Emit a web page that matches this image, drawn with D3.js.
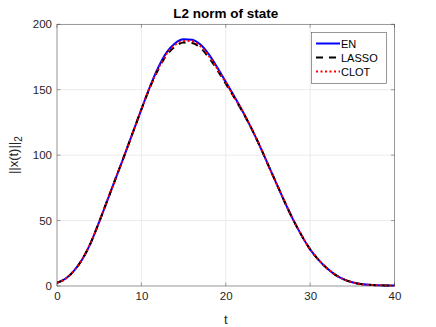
<!DOCTYPE html>
<html><head><meta charset="utf-8">
<script src="https://cdn.jsdelivr.net/npm/d3@7"></script>
<style>body{margin:0;background:#fff;}svg{display:block;font-family:Helvetica,"Liberation Sans",Arial,sans-serif;}</style>
</head><body><svg id="c" width="436" height="327"></svg>
<script>
const tValues = [0,1,2,3,4,5,6,7,8,9,10,11,12,13,14,15,16,17,18,19,20,21,22,23,24,25,26,27,28,29,30,31,32,33,34,35,36,37,38,39,40];
const enValues = [2.5,5.5,11.5,20.5,33,49,66,83,100,117.5,135,152,167,178.5,185.5,188.5,188.2,184.5,177,167,156,145,133.5,121,107.5,93,78.5,64,50.5,38.5,28,20,13.5,8.5,5,2.8,1.5,0.9,0.6,0.4,0.3];
const lassoValues = [2.5,5.5,11.5,20.5,33,49,66,83,100,117.5,135,151.5,165.5,176.5,183,186,185.7,182,174.5,165,154.5,144,133,121,107.5,93,78.5,64,50.5,38.5,28,20,13.5,8.5,5,2.8,1.5,0.9,0.6,0.4,0.3];
const clotValues = [2.5,5.5,11.5,20.5,33,49,66,83,100,117.5,135,151.8,166.3,177.5,184.3,187.3,187,183.3,175.8,166,155.3,144.5,133.3,121,107.5,93,78.5,64,50.5,38.5,28,20,13.5,8.5,5,2.8,1.5,0.9,0.6,0.4,0.3];
const seriesNames = ["EN","LASSO","CLOT"];
const xTicks = [0,10,20,30,40];
const yTicks = [0,50,100,150,200];

const svg = d3.select("#c");
const L=57, R=394.5, T=24.3, B=286;
const x = d3.scaleLinear().domain([0,40]).range([L,R]);
const y = d3.scaleLinear().domain([0,200]).range([B,T]);
const axisCol = "#262626";

// grid
const g = svg.append("g");
g.selectAll("line.gx").data(xTicks).enter().append("line")
  .attr("x1",d=>x(d)).attr("x2",d=>x(d)).attr("y1",T).attr("y2",B)
  .attr("stroke","#ebebeb").attr("stroke-width",1);
g.selectAll("line.gy").data(yTicks).enter().append("line")
  .attr("y1",d=>y(d)).attr("y2",d=>y(d)).attr("x1",L).attr("x2",R)
  .attr("stroke","#ebebeb").attr("stroke-width",1);

// lines
const line = vals => d3.line().x((d,i)=>x(tValues[i])).y(d=>y(d)).curve(d3.curveMonotoneX)(vals);
const styles = [
  {vals:enValues,color:"#0000ff",dash:null},
  {vals:lassoValues,color:"#000000",dash:"7,6"},
  {vals:clotValues,color:"#ff0000",dash:"2,2.5"}
];
svg.append("clipPath").attr("id","cp").append("rect").attr("x",L).attr("y",T-2).attr("width",R-L+2).attr("height",B-T+4);
styles.forEach(s=>{
  svg.append("path").attr("d",line(s.vals)).attr("fill","none")
    .attr("stroke",s.color).attr("stroke-width",2)
    .attr("stroke-dasharray",s.dash).attr("clip-path","url(#cp)");
});

// axes
const xAxis = d3.axisBottom(x).tickValues(xTicks).tickSize(0).tickPadding(6);
const xa = svg.append("g").attr("transform",`translate(0,${B})`).call(xAxis);
xa.select(".domain").remove();
xa.selectAll("text").attr("font-size",11.5).attr("fill",axisCol).attr("font-family","Helvetica,'Liberation Sans',Arial,sans-serif");
const yAxis = d3.axisLeft(y).tickValues(yTicks).tickSize(0).tickPadding(5);
const ya = svg.append("g").attr("transform",`translate(${L},0)`).call(yAxis);
ya.select(".domain").remove();
ya.selectAll("text").attr("font-size",11.5).attr("fill",axisCol).attr("font-family","Helvetica,'Liberation Sans',Arial,sans-serif");

// box and ticks inside
svg.append("rect").attr("x",L).attr("y",T).attr("width",R-L).attr("height",B-T)
  .attr("fill","none").attr("stroke",axisCol).attr("stroke-width",0.6).attr("stroke-opacity",0.7);
const tk = svg.append("g").attr("stroke",axisCol).attr("stroke-width",0.6).attr("stroke-opacity",0.7);
xTicks.forEach(t=>{
  tk.append("line").attr("x1",x(t)).attr("x2",x(t)).attr("y1",B).attr("y2",B-3.5);
  tk.append("line").attr("x1",x(t)).attr("x2",x(t)).attr("y1",T).attr("y2",T+3.5);
});
yTicks.forEach(t=>{
  tk.append("line").attr("y1",y(t)).attr("y2",y(t)).attr("x1",L).attr("x2",L+3.5);
  tk.append("line").attr("y1",y(t)).attr("y2",y(t)).attr("x1",R).attr("x2",R-3.5);
});

// title & labels
svg.append("text").attr("x",(L+R)/2).attr("y",18).attr("text-anchor","middle")
  .attr("font-size",13.5).attr("font-weight","bold").attr("fill","#000").text("L2 norm of state");
svg.append("text").attr("x",(L+R)/2).attr("y",324).attr("text-anchor","middle")
  .attr("font-size",13).attr("fill",axisCol).text("t");
const yl = svg.append("text").attr("transform",`translate(18,${(T+B)/2}) rotate(-90)`)
  .attr("text-anchor","middle").attr("font-size",13).attr("fill",axisCol);
yl.append("tspan").text("||x(t)||");
yl.append("tspan").attr("dy",4).attr("font-size",10).text("2");

// legend
const lg = svg.append("g");
lg.append("rect").attr("x",311.5).attr("y",32.5).attr("width",75).attr("height",51)
  .attr("fill","#fff").attr("stroke","#262626").attr("stroke-width",0.6).attr("stroke-opacity",0.8);
seriesNames.forEach((n,i)=>{
  const yy = 43.5 + i*14;
  lg.append("line").attr("x1",316).attr("x2",340).attr("y1",yy).attr("y2",yy)
    .attr("stroke",styles[i].color).attr("stroke-width",2).attr("stroke-dasharray",styles[i].dash);
  lg.append("text").attr("x",341).attr("y",yy+4).attr("font-size",11).attr("fill","#000").text(n);
});
</script></body></html>
